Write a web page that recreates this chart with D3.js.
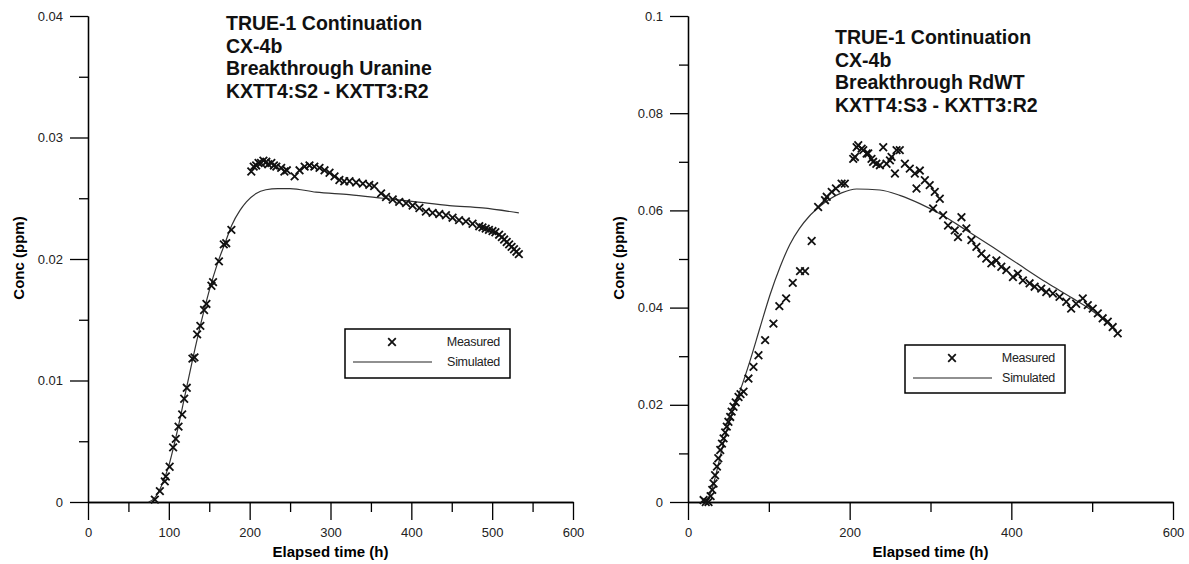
<!DOCTYPE html>
<html>
<head>
<meta charset="utf-8">
<script src="https://cdn.jsdelivr.net/npm/d3@7"></script>
<style>
  body { margin: 0; background: #fff; }
  svg { display: block; font-family: "Liberation Sans", Arial, sans-serif; }
  .tick text { fill: #222; font-size: 13px; }
  .axis path, .axis line { stroke: #000; stroke-width: 1.3px; }
</style>
</head>
<body>
<svg id="chart" width="1189" height="564"></svg>
<script>
// Uranine, KXTT4:S2 - KXTT3:R2  [elapsed time (h), conc (ppm)]
const uranineMeasured = [
  [82.7,0.0002],[88.9,0.0009],[95,0.0017],[96.3,0.0021],[101,0.0029],[105.3,0.0045],[108.6,0.0052],
  [112,0.0062],[116.5,0.0072],[119,0.0085],[122.2,0.0094],[129.2,0.0118],[131.7,0.0119],[135,0.0138],
  [139,0.0145],[143.6,0.0158],[146.5,0.0163],[152.7,0.0178],[154.7,0.0181],[162,0.0198],[168,0.0212],
  [171,0.0213],[177.4,0.0224],
  [202,0.0272],[205,0.0276],[208,0.0277],[211,0.0279],[214,0.0279],[217,0.0281],[220.6,0.0280],
  [223,0.0278],[226.8,0.0279],[230,0.0277],[233,0.0276],[239,0.0275],[243,0.0272],[246,0.0273],
  [255.6,0.0268],[261.7,0.0273],[268,0.0276],[274,0.0277],[280,0.0276],[286.4,0.0275],[292.6,0.0273],
  [298.8,0.0271],[305,0.0268],[311,0.0265],[317,0.0264],[323.5,0.0264],[331.7,0.0263],[340,0.0262],
  [348,0.0261],[354,0.026],[362.6,0.0254],[368.7,0.0251],[377,0.0249],[385,0.0247],[393.5,0.0246],
  [401.6,0.0244],[410,0.0242],[418,0.0239],[426.3,0.0238],[434.6,0.0237],[442.8,0.0236],[451,0.0234],
  [459,0.0232],[467.5,0.0231],[475.7,0.0229],[484,0.0227],[488,0.0226],[492,0.0225],[496,0.0224],
  [500.4,0.0223],[504,0.0222],[508.6,0.022],[512,0.0218],[514.8,0.0216],[518,0.0214],[521,0.0212],
  [524,0.021],[527,0.0208],[530,0.0206],[533,0.0204]
];
const uranineSimulated = [
  [75,0],[82,0.0003],[90,0.0012],[100,0.003],[110,0.0057],[120,0.0088],[130,0.0119],[140,0.0148],
  [150,0.0174],[160,0.0196],[170,0.0214],[178,0.0228],[188,0.024],[196,0.0247],[208,0.0254],
  [220,0.0257],[235,0.0258],[250,0.0258],[282,0.0255],[323,0.0253],[365,0.025],[406,0.0247],
  [447,0.0244],[488,0.0242],[533,0.0238]
];

// RdWT, KXTT4:S3 - KXTT3:R2
const rdwtMeasured = [
  [19.3,0.0004],[22,0],[25.4,0],[28,0.0012],[30,0.0025],[31.6,0.0038],[33.5,0.0055],[35.8,0.0073],
  [37.5,0.009],[39.9,0.0107],[42,0.012],[44,0.0131],[46,0.0143],[48,0.0155],[50,0.0165],[52.2,0.0175],
  [54,0.0186],[56.3,0.0196],[59,0.0205],[62.5,0.0216],[65,0.0222],[68.7,0.0227],[74.8,0.0254],
  [81,0.0278],[87.2,0.0302],[95.4,0.0333],[105.7,0.0367],[113,0.0403],[121.4,0.0419],[129.6,0.0451],
  [138.6,0.0475],[144.8,0.0475],[153,0.0537],[161,0.0607],[169.5,0.0621],[171.6,0.0628],[177.8,0.0638],
  [183,0.0645],[190,0.0655],[194,0.0655],
  [204.4,0.0706],[206.5,0.071],[208.6,0.073],[210.6,0.0734],[214.8,0.0727],[216.8,0.0724],[221,0.0717],
  [223,0.0717],[227,0.0706],[229,0.07],[233,0.0696],[237.4,0.0693],[241.5,0.073],[245.6,0.0696],
  [249.8,0.0703],[251.8,0.071],[256,0.0676],[258,0.0724],[262,0.0724],[268.3,0.0696],[274.4,0.0686],
  [280.6,0.0676],[282.7,0.0645],[286.8,0.0682],[293,0.0662],[299,0.0652],[303.2,0.0604],[305.3,0.0638],
  [311.5,0.0624],[315.6,0.059],[321.7,0.0569],[330,0.0559],[334,0.0545],[338.3,0.0586],[344.4,0.0563],
  [350.6,0.0539],[356.8,0.0525],[363,0.0511],[369,0.0501],[375.3,0.0491],[381.5,0.0497],[387.6,0.0484],
  [393.8,0.0477],[402,0.0463],[408,0.047],[414.3,0.0456],[422.6,0.045],[428.8,0.0443],[437,0.0439],
  [443.2,0.0432],[451.4,0.0429],[459.6,0.0422],[468,0.0412],[474,0.0398],[480.2,0.0408],[488.4,0.0419],
  [494.6,0.0405],[500.7,0.0398],[507,0.0388],[513,0.0378],[519.3,0.0371],[525.4,0.036],[531.6,0.0347]
];
const rdwtSimulated = [
  [18,0],[25,0.0008],[32,0.004],[40,0.0095],[50,0.016],[60,0.021],[64.6,0.023],[77,0.0292],
  [89.3,0.036],[101.6,0.0427],[114,0.0484],[126,0.053],[138,0.0563],[150,0.0588],[163,0.0608],
  [176,0.0624],[190,0.0636],[208.6,0.0644],[237.4,0.0642],[262,0.0631],[286.8,0.0614],
  [311.5,0.0593],[344.4,0.0559],[377.3,0.0524],[410,0.0488],[443.2,0.0452],[476,0.0419],
  [497,0.0397],[517.3,0.0371],[531.6,0.0347]
];

// tick values / labels
const leftTitle = ["TRUE-1 Continuation", "CX-4b", "Breakthrough Uranine", "KXTT4:S2 - KXTT3:R2"];
const rightTitle = ["TRUE-1 Continuation", "CX-4b", "Breakthrough RdWT", "KXTT4:S3 - KXTT3:R2"];
const leftYMajor = [0, 0.01, 0.02, 0.03, 0.04];
const leftYMinor = [0.005, 0.015, 0.025, 0.035];
const leftXMajor = [0, 100, 200, 300, 400, 500, 600];
const leftXMinor = [50, 150, 250, 350, 450, 550];
const rightYMajor = [0, 0.02, 0.04, 0.06, 0.08, 0.1];
const rightYMinor = [0.01, 0.03, 0.05, 0.07, 0.09];
const rightXMajor = [0, 200, 400, 600];
const rightXMinor = [100, 300, 500];
const legendLabels = ["Measured", "Simulated"];

const svg = d3.select("#chart");
svg.append("rect").attr("width", 1189).attr("height", 564).attr("fill", "#fff");

const crossPath = "M-3.8,-3.8L3.8,3.8M-3.8,3.8L3.8,-3.8";

const drawPanel = function(p) {
    const x = d3.scaleLinear().domain([0, 600]).range([p.left, p.right]);
    const y = d3.scaleLinear().domain(p.yDomain).range([502, 16]);
    let g = svg.append("g");

    // minor ticks first, then majors with labels
    g.append("g").attr("class", "axis").attr("transform", "translate(" + p.left + ",0)")
        .call(d3.axisLeft(y).tickValues(p.yMinor).tickSize(9).tickSizeOuter(0).tickFormat(""));
    g.append("g").attr("class", "axis").attr("transform", "translate(" + p.left + ",0)")
        .call(d3.axisLeft(y).tickValues(p.yMajor).tickSize(18).tickSizeOuter(0).tickPadding(7)
            .tickFormat((d) => d === 0 ? "0" : d3.format("")(+d.toFixed(2))));
    g.append("g").attr("class", "axis").attr("transform", "translate(0,502)")
        .call(d3.axisBottom(x).tickValues(p.xMinor).tickSize(10).tickSizeOuter(0).tickFormat(""));
    g.append("g").attr("class", "axis").attr("transform", "translate(0,502)")
        .call(d3.axisBottom(x).tickValues(p.xMajor).tickSize(18).tickSizeOuter(0).tickPadding(8));

    // simulated curve
    let line = d3.line().x((d) => x(d[0])).y((d) => y(d[1])).curve(d3.curveMonotoneX);
    g.append("path").datum(p.simulated)
        .attr("d", line).attr("fill", "none").attr("stroke", "#333").attr("stroke-width", 1.2);

    // measured crosses
    g.append("g").selectAll("path").data(p.measured).enter().append("path")
        .attr("d", crossPath)
        .attr("transform", (d) => "translate(" + x(d[0]) + "," + y(d[1]) + ")")
        .attr("stroke", "#111").attr("stroke-width", 1.8).attr("fill", "none");

    // axis titles
    g.append("text").attr("x", (p.left + p.right) / 2).attr("y", 557)
        .attr("text-anchor", "middle").attr("font-weight", "bold").attr("font-size", 15)
        .text("Elapsed time (h)");
    g.append("text").attr("transform", "translate(" + p.yLabelX + ",258) rotate(-90)")
        .attr("text-anchor", "middle").attr("dominant-baseline", "central")
        .attr("font-weight", "bold").attr("font-size", 15)
        .text("Conc (ppm)");

    // title block
    g.append("g").selectAll("text").data(p.title).enter().append("text")
        .attr("x", p.titleX).attr("y", (d, i) => p.titleY + i * 22.7)
        .attr("font-weight", "bold").attr("font-size", 19.5).attr("fill", "#111")
        .text((d) => d);

    // legend
    const lg = p.legend;
    let leg = g.append("g");
    leg.append("rect").attr("x", lg.x).attr("y", lg.y).attr("width", lg.w).attr("height", lg.h)
        .attr("fill", "#fff").attr("stroke", "#000").attr("stroke-width", 1.5);
    leg.append("path").attr("d", crossPath)
        .attr("transform", "translate(" + (lg.x + 47) + "," + (lg.y + 13) + ")")
        .attr("stroke", "#111").attr("stroke-width", 1.8);
    leg.append("line").attr("x1", lg.x + 8).attr("x2", lg.x + 87)
        .attr("y1", lg.y + 33).attr("y2", lg.y + 33).attr("stroke", "#222").attr("stroke-width", 1.2);
    leg.selectAll("text.lbl").data(legendLabels).enter().append("text")
        .attr("class", "lbl")
        .attr("x", lg.x + lg.w - 10).attr("y", (d, i) => lg.y + 13 + i * 20)
        .attr("text-anchor", "end").attr("dominant-baseline", "central")
        .attr("font-size", 12.5).attr("fill", "#222").attr("letter-spacing", "-0.3")
        .text((d) => d);
}

drawPanel({
    left: 88, right: 573, yDomain: [0, 0.04],
    yMajor: leftYMajor, yMinor: leftYMinor, xMajor: leftXMajor, xMinor: leftXMinor,
    measured: uranineMeasured, simulated: uranineSimulated,
    title: leftTitle, titleX: 226, titleY: 30, yLabelX: 18,
    legend: {x: 345, y: 329, w: 165, h: 49}
});
drawPanel({
    left: 688, right: 1173, yDomain: [0, 0.1],
    yMajor: rightYMajor, yMinor: rightYMinor, xMajor: rightXMajor, xMinor: rightXMinor,
    measured: rdwtMeasured, simulated: rdwtSimulated,
    title: rightTitle, titleX: 835, titleY: 44, yLabelX: 618,
    legend: {x: 905, y: 345, w: 160, h: 48}
});
</script>
</body>
</html>
